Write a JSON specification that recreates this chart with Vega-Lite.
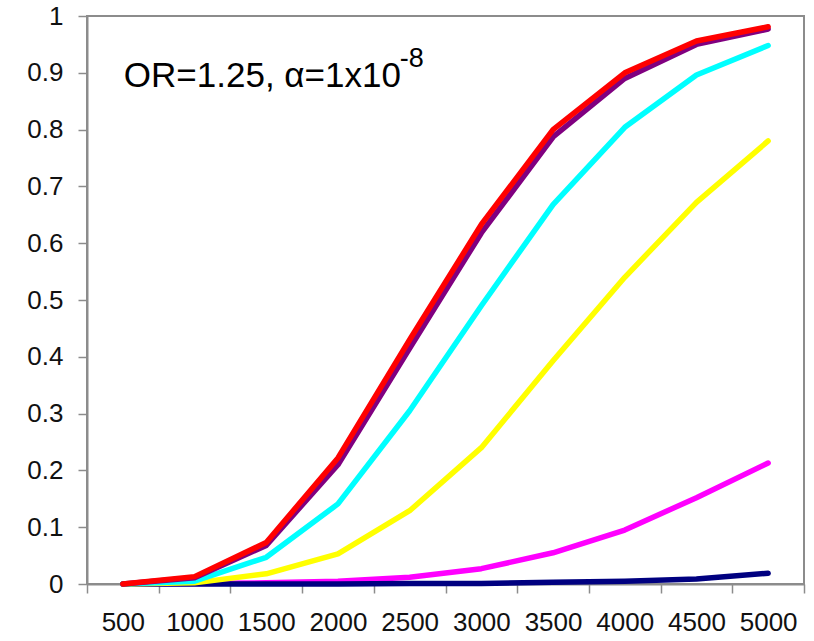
{
  "$schema": "https://vega.github.io/schema/vega-lite/v6.json",
  "width": 717,
  "height": 568,
  "autosize": {"type": "none"},
  "padding": {"left": 87, "top": 16, "right": 10, "bottom": 57},
  "background": "white",
  "config": {
    "view": {"stroke": "#8c8c8c", "strokeWidth": 2},
    "font": "Liberation Sans",
    "axis": {
      "domainColor": "#8c8c8c",
      "domainWidth": 2,
      "tickColor": "#8c8c8c",
      "tickWidth": 1.5,
      "tickSize": 9,
      "labelFont": "Liberation Sans",
      "labelFontSize": 26,
      "labelColor": "#111111",
      "grid": false,
      "title": null
    }
  },
  "datasets": {
    "power": [
      {"n": 500, "series": "s5", "p": 0},
      {"n": 1000, "series": "s5", "p": 0.001},
      {"n": 1500, "series": "s5", "p": 0.002},
      {"n": 2000, "series": "s5", "p": 0.005},
      {"n": 2500, "series": "s5", "p": 0.012},
      {"n": 3000, "series": "s5", "p": 0.027},
      {"n": 3500, "series": "s5", "p": 0.055},
      {"n": 4000, "series": "s5", "p": 0.095},
      {"n": 4500, "series": "s5", "p": 0.152},
      {"n": 5000, "series": "s5", "p": 0.213},
      {"n": 500, "series": "s6", "p": 0},
      {"n": 1000, "series": "s6", "p": 0},
      {"n": 1500, "series": "s6", "p": 0},
      {"n": 2000, "series": "s6", "p": 0},
      {"n": 2500, "series": "s6", "p": 0.001},
      {"n": 3000, "series": "s6", "p": 0.001},
      {"n": 3500, "series": "s6", "p": 0.003},
      {"n": 4000, "series": "s6", "p": 0.005},
      {"n": 4500, "series": "s6", "p": 0.009},
      {"n": 5000, "series": "s6", "p": 0.019},
      {"n": 500, "series": "s4", "p": 0},
      {"n": 1000, "series": "s4", "p": 0.002},
      {"n": 1500, "series": "s4", "p": 0.018},
      {"n": 2000, "series": "s4", "p": 0.053},
      {"n": 2500, "series": "s4", "p": 0.129},
      {"n": 3000, "series": "s4", "p": 0.24},
      {"n": 3500, "series": "s4", "p": 0.393},
      {"n": 4000, "series": "s4", "p": 0.54},
      {"n": 4500, "series": "s4", "p": 0.672},
      {"n": 5000, "series": "s4", "p": 0.78},
      {"n": 500, "series": "s3", "p": 0},
      {"n": 1000, "series": "s3", "p": 0.005},
      {"n": 1500, "series": "s3", "p": 0.047},
      {"n": 2000, "series": "s3", "p": 0.141},
      {"n": 2500, "series": "s3", "p": 0.305},
      {"n": 3000, "series": "s3", "p": 0.49},
      {"n": 3500, "series": "s3", "p": 0.668},
      {"n": 4000, "series": "s3", "p": 0.804},
      {"n": 4500, "series": "s3", "p": 0.896},
      {"n": 5000, "series": "s3", "p": 0.948},
      {"n": 500, "series": "s2", "p": 0},
      {"n": 1000, "series": "s2", "p": 0.011},
      {"n": 1500, "series": "s2", "p": 0.068},
      {"n": 2000, "series": "s2", "p": 0.21},
      {"n": 2500, "series": "s2", "p": 0.415},
      {"n": 3000, "series": "s2", "p": 0.618},
      {"n": 3500, "series": "s2", "p": 0.787},
      {"n": 4000, "series": "s2", "p": 0.89},
      {"n": 4500, "series": "s2", "p": 0.95},
      {"n": 5000, "series": "s2", "p": 0.977},
      {"n": 500, "series": "s1", "p": 0},
      {"n": 1000, "series": "s1", "p": 0.013},
      {"n": 1500, "series": "s1", "p": 0.073},
      {"n": 2000, "series": "s1", "p": 0.222},
      {"n": 2500, "series": "s1", "p": 0.43},
      {"n": 3000, "series": "s1", "p": 0.633},
      {"n": 3500, "series": "s1", "p": 0.8},
      {"n": 4000, "series": "s1", "p": 0.9},
      {"n": 4500, "series": "s1", "p": 0.956},
      {"n": 5000, "series": "s1", "p": 0.981}
    ],
    "labels": [
      {"n": 500, "p": 0.875, "text": "OR=1.25, α=1x10", "kind": "main"}
    ],
    "sup": [
      {"n": 500, "p": 0.875, "text": "-8", "kind": "sup"}
    ]
  },
  "layer": [
    {
      "data": {"name": "power"},
      "mark": {"type": "line", "strokeWidth": 5.5, "strokeCap": "round", "strokeJoin": "round"},
      "encoding": {
        "x": {
          "field": "n",
          "type": "ordinal",
          "scale": {"type": "band", "paddingInner": 0, "paddingOuter": 0},
          "axis": {"labelAngle": 0, "tickBand": "extent", "labelPadding": 16, "labelBaseline": "top"}
        },
        "y": {
          "field": "p",
          "type": "quantitative",
          "scale": {"domain": [0, 1], "nice": false},
          "axis": {"values": [0, 0.1, 0.2, 0.3, 0.4, 0.5, 0.6, 0.7, 0.8, 0.9, 1], "format": ".1~f", "labelPadding": 15}
        },
        "color": {
          "field": "series",
          "type": "nominal",
          "scale": {
            "domain": ["s1", "s2", "s3", "s4", "s5", "s6"],
            "range": ["#ff0000", "#800080", "#00ffff", "#ffff00", "#ff00ff", "#000080"]
          },
          "legend": null
        }
      }
    },
    {
      "data": {"name": "labels"},
      "mark": {"type": "text", "align": "left", "baseline": "alphabetic", "fontSize": 35, "font": "Liberation Sans", "color": "#000000", "dx": 1},
      "encoding": {
        "x": {"field": "n", "type": "ordinal"},
        "y": {"field": "p", "type": "quantitative"},
        "text": {"field": "text"}
      }
    },
    {
      "data": {"name": "sup"},
      "mark": {"type": "text", "align": "left", "baseline": "alphabetic", "fontSize": 27, "font": "Liberation Sans", "color": "#000000", "dx": 277, "dy": -20},
      "encoding": {
        "x": {"field": "n", "type": "ordinal"},
        "y": {"field": "p", "type": "quantitative"},
        "text": {"field": "text"}
      }
    }
  ]
}
